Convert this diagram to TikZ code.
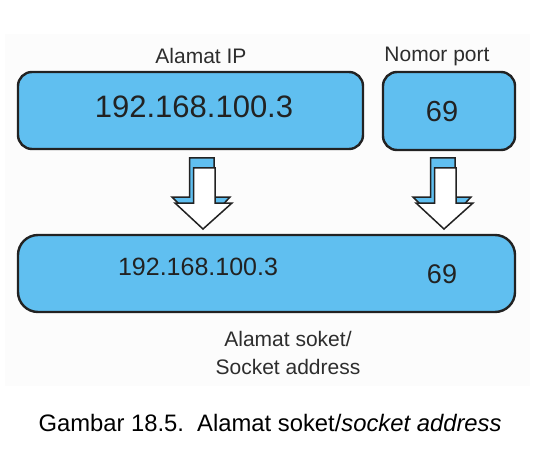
\documentclass[tikz,border=0pt]{standalone}
\usepackage{fontspec}
\setmainfont{Liberation Sans}
\definecolor{boxblue}{RGB}{96,191,240}
\definecolor{linecol}{RGB}{34,34,34}
\definecolor{panel}{RGB}{252,252,252}
\definecolor{labcol}{RGB}{45,45,45}
\tikzset{
  box/.style={draw=linecol,fill=boxblue,line width=2.4pt,inner sep=0pt},
  bignum/.style={text=linecol,inner sep=0pt,font=\fontsize{31}{31}\selectfont},
  midnum/.style={text=linecol,inner sep=0pt,font=\fontsize{27}{27}\selectfont},
  lab/.style={text=labcol,inner sep=0pt,font=\fontsize{21}{21}\selectfont},
  captext/.style={text=black,inner sep=0pt,font=\fontsize{23.8}{23.8}\selectfont},
  blockarrow/.pic={
    \filldraw[fill=boxblue,draw=linecol,line width=1.5pt,line join=miter]
      (-13.5,-2) -- (11,-2) -- (11,37) -- (27,37) -- (-1,67) -- (-31,37) -- (-13.5,37) -- cycle;
    \filldraw[fill=white,draw=linecol,line width=1.5pt,line join=miter]
      (-9.5,8) -- (12,8) -- (12,43) -- (29,43) -- (0,69) -- (-28,43) -- (-9.5,43) -- cycle;
  }
}
\begin{document}
\begin{tikzpicture}[x=1pt,y=-1pt]
\useasboundingbox (0,0) rectangle (551,449);
\fill[panel] (5,34) rectangle (530,386);
% boxes
\node[box,rounded corners=14pt,minimum width=345pt,minimum height=77pt] (ipbox) at (190.5,110.5) {};
\node[box,rounded corners=14pt,minimum width=132pt,minimum height=78pt] (portbox) at (449,111) {};
\node[box,rounded corners=20pt,minimum width=497pt,minimum height=77pt] (sockbox) at (266.5,273.5) {};
% labels
\node[lab] (iplab) at (201,56) {Alamat IP};
\node[lab] (portlab) at (437,56) {Nomor port};
\node[bignum] (ipnum) at (194,107) {192.168.100.3};
\node[bignum,font=\fontsize{29}{29}\selectfont] (portnum) at (442,112) {69};
\node[midnum,font=\fontsize{25}{25}\selectfont] (sockip) at (198,267) {192.168.100.3};
\node[midnum] (sockport) at (442,274) {69};
\node[lab] (socklab1) at (288,339) {Alamat soket/};
\node[lab] (socklab2) at (288,367) {Socket address};
\node[captext] (caption) at (270,423) {Gambar 18.5.\ \ Alamat soket/\textit{socket address}};
% arrows
\pic at (203,160) {blockarrow};
\pic at (444,160) {blockarrow};
\end{tikzpicture}
\end{document}
